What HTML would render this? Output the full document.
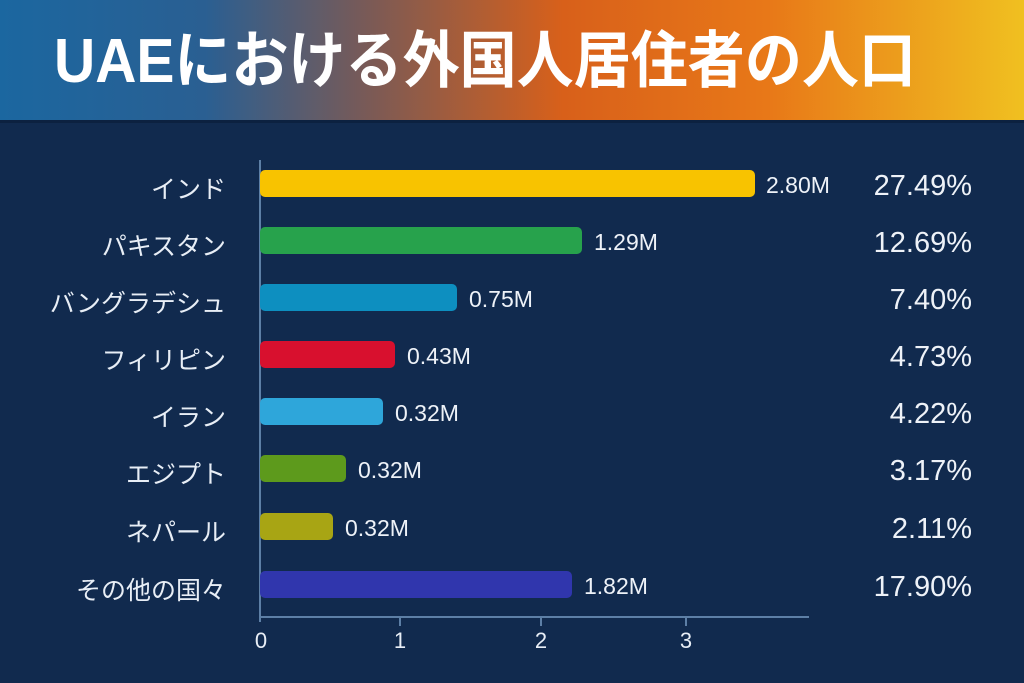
<!DOCTYPE html>
<html><head><meta charset="utf-8"><style>
body{margin:0;width:1024px;height:683px;background:#112a4e;position:relative;overflow:hidden;font-family:"Liberation Sans","Noto Sans CJK JP",sans-serif;color:#e8eef6}
.hdr{position:absolute;left:0;top:0;width:1024px;height:120px;background:linear-gradient(90deg,#1b67a0 0%,#2a5f92 20%,#7a5a56 36%,#d8601a 55%,#e87818 75%,#f0c020 100%)}
.hdr h1{margin:0;position:absolute;left:54px;top:26px;font-size:62px;font-weight:bold;color:#fff;line-height:72px;transform:scaleX(0.92);transform-origin:0 0;white-space:nowrap}
.line{position:absolute;left:0;top:120px;width:1024px;height:3px;background:#0c2140}
.lab{position:absolute;right:798px;font-size:25px;text-align:right;white-space:nowrap}
.bar{position:absolute;left:260px;height:27px;border-radius:5px}
.val{position:absolute;font-size:23px;color:#eef2f8}
.pct{position:absolute;right:52px;font-size:29px;color:#eef2f8}
.ax{position:absolute;background:#5d7fa6}
.tk{position:absolute;top:628px;font-size:22px;width:30px;text-align:center;margin-left:-15px}
</style></head><body>
<div class="hdr"><h1>UAEにおける外国人居住者の人口</h1></div>
<div class="line"></div>
<div class="ax" style="left:259px;top:160px;width:2px;height:462px"></div>
<div class="ax" style="left:259px;top:616px;width:550px;height:2px"></div>
<div class="ax" style="left:399px;top:617px;width:2px;height:9px"></div>
<div class="ax" style="left:540px;top:617px;width:2px;height:9px"></div>
<div class="ax" style="left:685px;top:617px;width:2px;height:9px"></div>
<div class="tk" style="left:261px">0</div><div class="tk" style="left:400px">1</div><div class="tk" style="left:541px">2</div><div class="tk" style="left:686px">3</div>

<div class="lab" style="top:170px">インド</div>
<div class="bar" style="top:170px;width:495px;background:#f8c300"></div>
<div class="val" style="left:766px;top:172px">2.80M</div><div class="pct" style="top:170px">27.49%</div>

<div class="lab" style="top:227px">パキスタン</div>
<div class="bar" style="top:227px;width:322px;background:#27a24c"></div>
<div class="val" style="left:594px;top:229px">1.29M</div><div class="pct" style="top:227px">12.69%</div>

<div class="lab" style="top:284px">バングラデシュ</div>
<div class="bar" style="top:284px;width:197px;background:#0d8fc0"></div>
<div class="val" style="left:469px;top:286px">0.75M</div><div class="pct" style="top:284px">7.40%</div>

<div class="lab" style="top:341px">フィリピン</div>
<div class="bar" style="top:341px;width:135px;background:#d8102e"></div>
<div class="val" style="left:407px;top:343px">0.43M</div><div class="pct" style="top:341px">4.73%</div>

<div class="lab" style="top:398px">イラン</div>
<div class="bar" style="top:398px;width:123px;background:#2ea6da"></div>
<div class="val" style="left:395px;top:400px">0.32M</div><div class="pct" style="top:398px">4.22%</div>

<div class="lab" style="top:455px">エジプト</div>
<div class="bar" style="top:455px;width:86px;background:#5d9a1c"></div>
<div class="val" style="left:358px;top:457px">0.32M</div><div class="pct" style="top:455px">3.17%</div>

<div class="lab" style="top:513px">ネパール</div>
<div class="bar" style="top:513px;width:73px;background:#a8a514"></div>
<div class="val" style="left:345px;top:515px">0.32M</div><div class="pct" style="top:513px">2.11%</div>

<div class="lab" style="top:571px">その他の国々</div>
<div class="bar" style="top:571px;width:312px;background:#3036ad"></div>
<div class="val" style="left:584px;top:573px">1.82M</div><div class="pct" style="top:571px">17.90%</div>
</body></html>
